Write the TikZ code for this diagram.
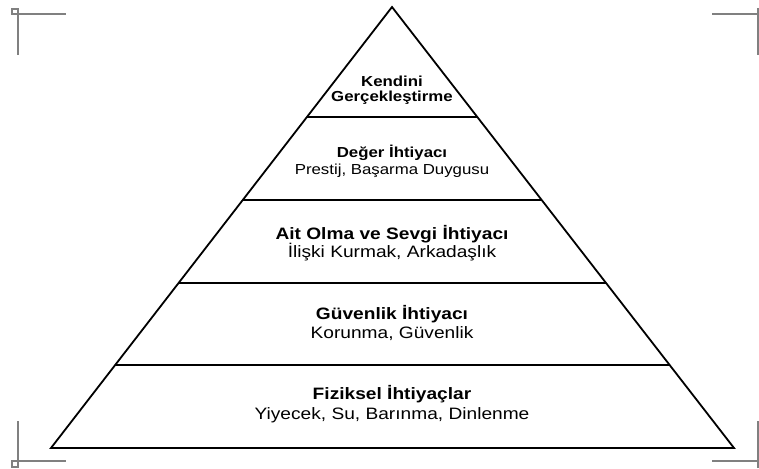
\documentclass[tikz,border=0pt]{standalone}
\usepackage{fontspec}
\setmainfont{Liberation Sans}[FakeStretch=1.16]
\usetikzlibrary{calc}
\tikzset{
  pyr/.style={line width=1.8pt, black, line join=miter},
  level/.style={line width=1.8pt, black},
  cropmark/.style={line width=1.4pt, black!50},
  headtop/.style={anchor=base, inner sep=0pt, font=\fontsize{14.5}{15}\selectfont\bfseries},
  subtop/.style={anchor=base, inner sep=0pt, font=\fontsize{14.5}{15}\selectfont},
  headlow/.style={anchor=base, inner sep=0pt, font=\fontsize{16.5}{18}\selectfont\bfseries},
  sublow/.style={anchor=base, inner sep=0pt, font=\fontsize{16.5}{18}\selectfont},
}
\begin{document}
\begin{tikzpicture}[x=1pt,y=-1pt]
\useasboundingbox (0,0) rectangle (759,468);
% pyramid
\coordinate (apex) at (392,7);
\coordinate (bl) at (51,448);
\coordinate (br) at (734,448);
\draw[pyr] (apex) -- (bl) -- (br) -- cycle;
\foreach \t/\n in {0.2494/a,0.4376/b,0.6259/c,0.8118/d}{
  \coordinate (l\n) at ($(apex)!\t!(bl)$);
  \coordinate (r\n) at ($(apex)!\t!(br)$);
  \draw[level] (l\n) -- (r\n);
}
% texts
\node[headtop] (k1) at (392,87) {Kendini};
\node[headtop] (k2) at (392,102) {Gerçekleştirme};
\node[headtop] (d1) at (392,157) {Değer İhtiyacı};
\node[subtop] (d2) at (392,174) {Prestij, Başarma Duygusu};
\node[headlow] (s1) at (392,239) {Ait Olma ve Sevgi İhtiyacı};
\node[sublow] (s2) at (392,257) {İlişki Kurmak, Arkadaşlık};
\node[headlow] (g1) at (392,319) {Güvenlik İhtiyacı};
\node[sublow] (g2) at (392,338) {Korunma, Güvenlik};
\node[headlow] (f1) at (392,399) {Fiziksel İhtiyaçlar};
\node[sublow] (f2) at (392,419) {Yiyecek, Su, Barınma, Dinlenme};
% crop marks
\draw[cropmark] (12,9) rectangle (18,14);
\draw[cropmark] (18,14) -- (66,14);
\draw[cropmark] (18,14) -- (18,55);
\draw[cropmark] (712,14) -- (758,14);
\draw[cropmark] (758,8) -- (758,55);
\draw[cropmark] (12,461) rectangle (18,467);
\draw[cropmark] (18,421) -- (18,461) -- (66,461);
\draw[cropmark] (712,461) -- (758,461);
\draw[cropmark] (758,421) -- (758,468);
\end{tikzpicture}
\end{document}
